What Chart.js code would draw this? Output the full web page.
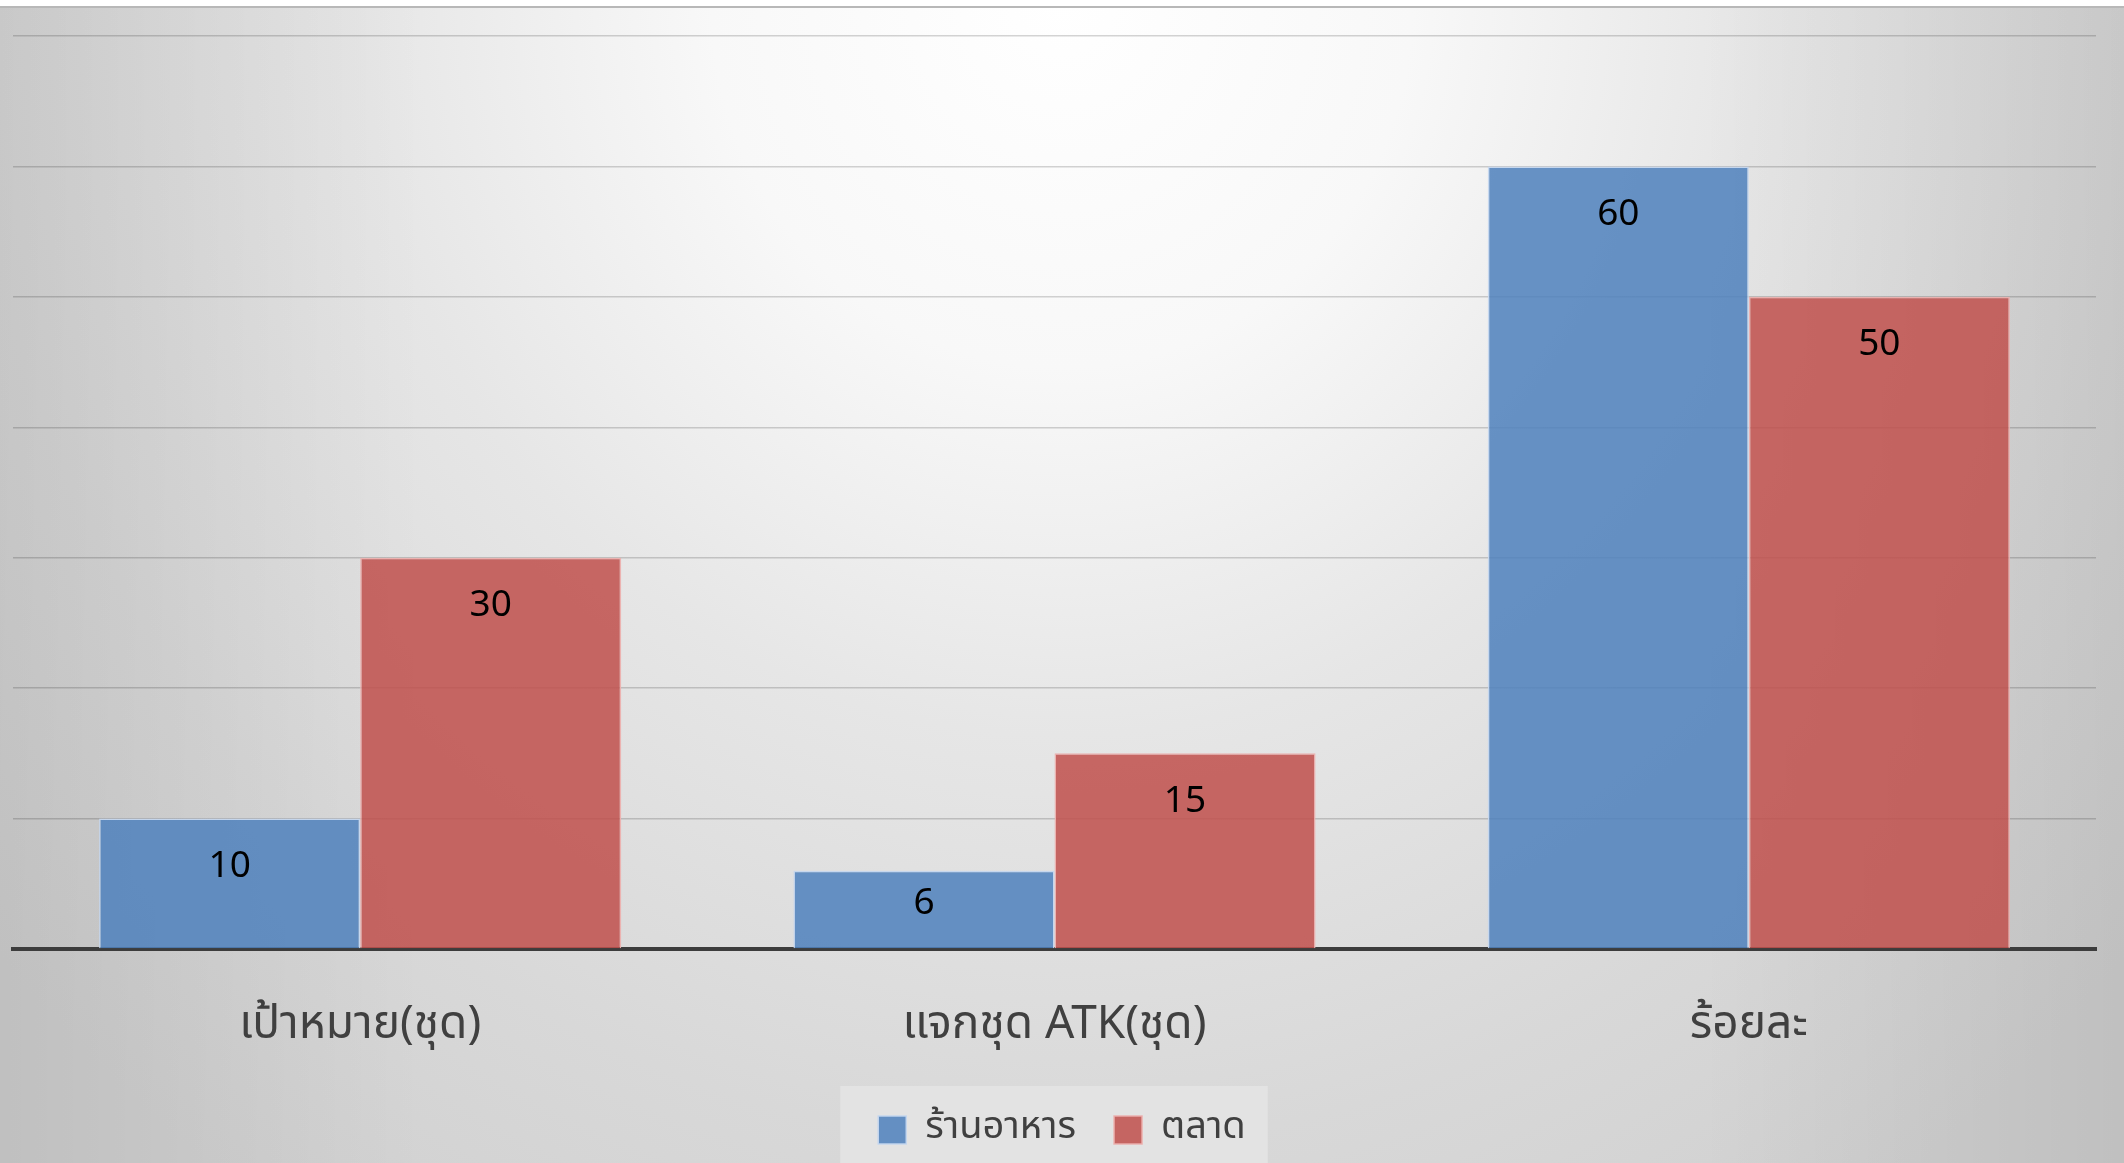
<!DOCTYPE html>
<html>
<head>
<meta charset="utf-8">
<script src="https://cdn.jsdelivr.net/npm/chart.js@4.4.1/dist/chart.umd.min.js"></script>
<style>
  html, body { margin: 0; padding: 0; background: #ffffff; overflow: hidden; }
  #wrap { width: 2124px; height: 1163px; position: relative; }
  canvas { display: block; }
</style>
</head>
<body>
<div id="wrap"><canvas id="c" width="2124" height="1163"></canvas></div>
<script>
// Categories, series and values
const categories = ['เป้าหมาย(ชุด)', 'แจกชุด ATK(ชุด)', 'ร้อยละ'];
const seriesNames = ['ร้านอาหาร', 'ตลาด'];
const restaurantValues = [10, 6, 60];
const marketValues = [30, 15, 50];
const gridTicks = [0, 10, 20, 30, 40, 50, 60, 70];

const FONT = "'Noto Sans Thai', 'Noto Sans', 'Leelawadee UI', sans-serif";

// Soft grey backdrop, brightest at the top centre
const backdrop = {
  id: 'backdrop',
  beforeDraw(chart) {
    const { ctx, width: w, height: h } = chart;
    ctx.save();
    ctx.translate(w / 2, 0);
    ctx.scale(1, 1.05);
    const g = ctx.createRadialGradient(0, 0, 0, 0, 0, 1400);
    g.addColorStop(0, '#ffffff');
    g.addColorStop(0.25, '#f8f8f8');
    g.addColorStop(0.5, '#e6e6e6');
    g.addColorStop(0.78, '#d8d8d8');
    g.addColorStop(1, '#d0d0d0');
    ctx.fillStyle = g;
    ctx.fillRect(-w / 2, -10, w, h / 1.05 + 20);
    ctx.restore();

    ctx.save();
    const s = ctx.createLinearGradient(0, 0, w, 0);
    s.addColorStop(0, 'rgba(0,0,0,0.08)');
    s.addColorStop(0.2, 'rgba(0,0,0,0)');
    s.addColorStop(0.8, 'rgba(0,0,0,0)');
    s.addColorStop(1, 'rgba(0,0,0,0.08)');
    ctx.fillStyle = s;
    ctx.fillRect(0, 0, w, h);

    // white strip and rule along the top edge
    ctx.fillStyle = '#ffffff';
    ctx.fillRect(0, 0, w, 6);
    ctx.fillStyle = '#b8b8b8';
    ctx.fillRect(0, 6, w, 2);

    // panel behind the legend
    const boxes = chart.legend && chart.legend.legendHitBoxes;
    if (boxes && boxes.length) {
      const first = boxes[0];
      const last = boxes[boxes.length - 1];
      const left = first.left - 38;
      const right = last.left + last.width + 22;
      const top = first.top - 25;
      ctx.fillStyle = '#e3e3e3';
      ctx.fillRect(left, top, right - left, h - top);
    }
    ctx.restore();
  }
};

// Value written inside the top of each bar (kept clear of the baseline on short bars)
const barValues = {
  id: 'barValues',
  afterDatasetsDraw(chart) {
    const { ctx } = chart;
    ctx.save();
    ctx.font = '37px ' + FONT;
    ctx.fillStyle = '#000000';
    ctx.textAlign = 'center';
    ctx.textBaseline = 'middle';
    chart.data.datasets.forEach((ds, di) => {
      const meta = chart.getDatasetMeta(di);
      meta.data.forEach((bar, i) => {
        const height = bar.base - bar.y;
        const offset = Math.min(51, height - 42);
        ctx.fillText(String(ds.data[i]), bar.x, bar.y + offset);
      });
    });
    ctx.restore();
  }
};

new Chart(document.getElementById('c'), {
  type: 'bar',
  data: {
    labels: categories,
    datasets: [
      {
        label: seriesNames[0],
        data: restaurantValues,
        backgroundColor: 'rgba(79,129,189,0.86)',
        borderColor: 'rgba(196,214,238,0.95)',
        borderWidth: 1.5,
        categoryPercentage: 0.752,
        barPercentage: 1.0
      },
      {
        label: seriesNames[1],
        data: marketValues,
        backgroundColor: 'rgba(192,80,77,0.86)',
        borderColor: 'rgba(236,176,174,0.95)',
        borderWidth: 1.5,
        categoryPercentage: 0.752,
        barPercentage: 1.0
      }
    ]
  },
  options: {
    responsive: false,
    animation: false,
    devicePixelRatio: 1,
    layout: { padding: { top: 36, left: 13, right: 13, bottom: 4 } },
    scales: {
      x: {
        z: 1,
        grid: { display: false, drawTicks: false },
        border: { display: true, color: '#3c3c3c', width: 4 },
        ticks: { color: '#404040', font: { family: FONT, size: 46 }, padding: 52 },
        afterFit(s) { s.height = 124; }
      },
      y: {
        min: 0,
        max: 70,
        afterBuildTicks(s) { s.ticks = gridTicks.map(v => ({ value: v })); },
        ticks: { display: false },
        grid: { color: 'rgba(0,0,0,0.17)', lineWidth: 1.5, drawTicks: false },
        border: { display: false },
        afterFit(s) { s.width = 0; }
      },
      yRight: {
        position: 'right',
        display: true,
        ticks: { display: false },
        grid: { display: false, drawTicks: false },
        border: { display: false },
        afterFit(s) { s.width = 15; }
      }
    },
    plugins: {
      legend: {
        position: 'bottom',
        labels: {
          font: { family: FONT, size: 38 },
          color: '#404040',
          boxWidth: 28,
          boxHeight: 28,
          padding: 38
        }
      },
      tooltip: { enabled: false }
    }
  },
  plugins: [backdrop, barValues]
});
</script>
</body>
</html>
